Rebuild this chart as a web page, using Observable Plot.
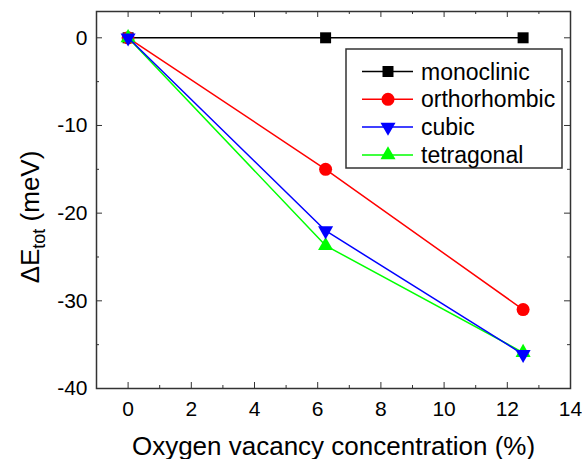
<!DOCTYPE html>
<html><head><meta charset="utf-8">
<script src="https://cdn.jsdelivr.net/npm/d3@7"></script>
<script src="https://cdn.jsdelivr.net/npm/@observablehq/plot@0.6"></script>
<style>body{margin:0;background:#fff} #chart{width:582px;height:459px}</style>
</head><body><div id="chart"></div>
<script>
const concentration = [0, 6.25, 12.5];
const seriesNames = ["monoclinic", "orthorhombic", "cubic", "tetragonal"];
const monoclinic = [0, 0, 0];
const orthorhombic = [0, -15, -31];
const cubic = [0, -22, -36.1];
const tetragonal = [0, -23.7, -35.9];
const xTicks = [0, 2, 4, 6, 8, 10, 12, 14];
const xMinorTicks = [-1, 1, 3, 5, 7, 9, 11, 13];
const yTicks = [0, -10, -20, -30, -40];
const yMinorTicks = [-5, -15, -25, -35];
const xTitle = "Oxygen vacancy concentration (%)";
const yTitle = "ΔEtot (meV)";

const colors = {monoclinic: "#000000", orthorhombic: "#ff0000", cubic: "#0000ff", tetragonal: "#00ff00"};
const triangleDown = {
  draw(ctx, size) {
    const s3 = Math.sqrt(3);
    const y = -Math.sqrt(size / (s3 * 3));
    ctx.moveTo(0, -y * 2);
    ctx.lineTo(-s3 * y, y);
    ctx.lineTo(s3 * y, y);
    ctx.closePath();
  }
};
const symbols = {monoclinic: "square", orthorhombic: "circle", cubic: triangleDown, tetragonal: "triangle"};
const radii = {monoclinic: 6.2, orthorhombic: 6.5, cubic: 5.6, tetragonal: 5.6};

const values = {monoclinic, orthorhombic, cubic, tetragonal};
const rows = seriesNames.flatMap(s => concentration.map((c, i) => ({series: s, x: c, y: values[s][i]})));

const W = 582, H = 459, mL = 96, mR = 12, mT = 11, mB = 71;
const fW = W - mL - mR, fH = H - mT - mB;
const drawOrder = ["monoclinic", "orthorhombic", "tetragonal", "cubic"];
const seriesMarks = drawOrder.flatMap(s => {
  const d = rows.filter(r => r.series === s);
  return [
    Plot.line(d, {x: "x", y: "y", stroke: colors[s], strokeWidth: 1.5}),
    Plot.dot(d, {x: "x", y: "y", fill: colors[s], stroke: "none", symbol: () => symbols[s], r: radii[s]})
  ];
});

const tickStyle = {stroke: "#333", strokeWidth: 1};
const chart = Plot.plot({
  width: W, height: H,
  marginLeft: mL, marginRight: mR, marginTop: mT, marginBottom: mB,
  style: {fontFamily: "'Liberation Sans', Arial, sans-serif", fontSize: "21px", color: "#000", background: "#fff"},
  x: {domain: [-1, 14], ticks: xTicks, tickSize: 0, tickPadding: 13, tickFormat: d => String(d), label: null},
  y: {domain: [-40, 3], ticks: yTicks, tickSize: 0, tickPadding: 9, tickFormat: d => String(d), label: null},
  symbol: {type: "identity"},
  marks: [
    Plot.tickX(xTicks, {x: d => d, insetTop: fH - 6, ...tickStyle}),
    Plot.tickX(xMinorTicks, {x: d => d, insetTop: fH - 3, ...tickStyle}),
    Plot.tickX(xTicks, {x: d => d, insetBottom: fH - 6, ...tickStyle}),
    Plot.tickX(xMinorTicks, {x: d => d, insetBottom: fH - 3, ...tickStyle}),
    Plot.tickY(yTicks, {y: d => d, insetRight: fW - 6, ...tickStyle}),
    Plot.tickY(yMinorTicks, {y: d => d, insetRight: fW - 3, ...tickStyle}),
    Plot.tickY(yTicks, {y: d => d, insetLeft: fW - 6, ...tickStyle}),
    Plot.tickY(yMinorTicks, {y: d => d, insetLeft: fW - 3, ...tickStyle}),
    ...seriesMarks,
    Plot.frame({stroke: "#333", strokeWidth: 1.5}),
    Plot.text([xTitle], {text: d => d, frameAnchor: "bottom", dy: 66, lineAnchor: "bottom", textAnchor: "middle", fontSize: 26, fill: "#000"}),
    Plot.text([yTitle], {text: d => d, frameAnchor: "left", dx: -58, dy: 17, rotate: -90, lineAnchor: "bottom", textAnchor: "middle", fontSize: 26, fill: "#000"})
  ]
});
document.getElementById("chart").appendChild(chart);

const svg = d3.select(chart);
// subscript in y title
svg.selectAll("text").filter(function() { return this.textContent === yTitle; }).each(function() {
  const t = d3.select(this);
  t.text(null);
  t.append("tspan").text("ΔE");
  t.append("tspan").attr("font-size", 18).attr("dy", 6).text("tot");
  t.append("tspan").attr("dy", -6).text(" (meV)");
});

// legend
const lg = svg.append("g").attr("font-family", "'Liberation Sans', Arial, sans-serif").attr("text-anchor", "start");
lg.append("rect").attr("x", 346).attr("y", 49).attr("width", 216).attr("height", 119)
  .attr("fill", "#fff").attr("stroke", "#333").attr("stroke-width", 1.5);
const legendSymbols = {monoclinic: d3.symbolSquare, orthorhombic: d3.symbolCircle, cubic: triangleDown, tetragonal: d3.symbolTriangle};
seriesNames.forEach((s, i) => {
  const y = 71.5 + i * 27.8;
  lg.append("line").attr("x1", 362).attr("x2", 413).attr("y1", y).attr("y2", y)
    .attr("stroke", colors[s]).attr("stroke-width", 1.5);
  lg.append("path").attr("transform", `translate(388,${y})`)
    .attr("d", d3.symbol(legendSymbols[s], radii[s] * radii[s] * Math.PI)())
    .attr("fill", colors[s]);
  lg.append("text").attr("x", 421).attr("y", y).attr("dy", "0.35em")
    .attr("text-anchor", "start")
    .attr("font-size", 23).attr("fill", "#000").text(s);
});
</script>
</body></html>
